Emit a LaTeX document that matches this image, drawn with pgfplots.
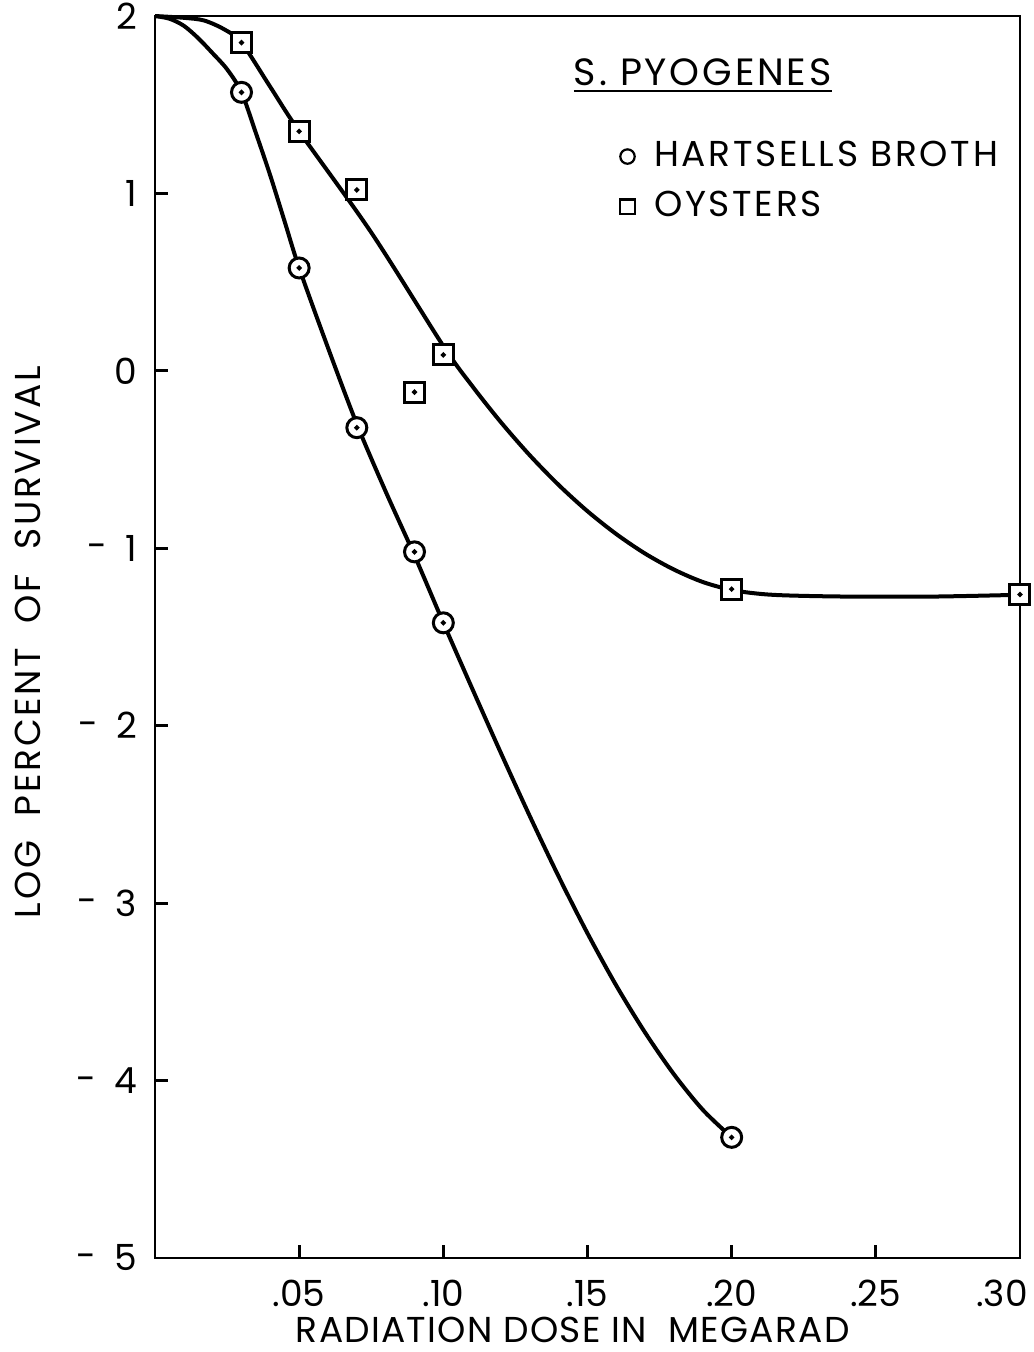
\documentclass[border=0pt]{standalone}
\usepackage{fontspec}
\setmainfont{Poppins}
\newfontfamily\wide{Poppins}[LetterSpace=7.5]
\newfontfamily\midw{Poppins}[LetterSpace=3.5]
\usepackage{pgfplots}
\usepackage{pgfplotstable}
\pgfplotsset{compat=1.18}
\pgfplotsset{single mark legend/.style={legend image code/.code={\draw[##1] plot coordinates {(0pt,0pt)};}}}
\newcommand{\mn}[1]{\raisebox{0.6pt}{-}\hspace{4.5pt}#1}
\pgfplotstableread{
x y
0.03 1.57
0.05 0.58
0.07 -0.32
0.09 -1.02
0.10 -1.42
0.20 -4.32
}\hartsells
\pgfplotstableread{
x y
0.03 1.85
0.05 1.35
0.07 1.02
0.09 -0.12
0.10 0.09
0.20 -1.23
0.30 -1.26
}\oysters
\pgfplotstableread{
x y
0.000 2.00
0.005 1.985
0.010 1.945
0.015 1.875
0.020 1.79
0.025 1.70
0.030 1.57
0.035 1.34
0.040 1.10
0.045 0.84
0.050 0.58
0.060 0.13
0.070 -0.30
0.080 -0.68
0.090 -1.04
0.100 -1.42
0.110 -1.79
0.120 -2.155
0.130 -2.51
0.140 -2.85
0.150 -3.17
0.160 -3.465
0.170 -3.73
0.180 -3.965
0.190 -4.165
0.200 -4.32
}\hcurve
\pgfplotstableread{
x y
0.000 2.00
0.010 1.99
0.017 1.975
0.024 1.925
0.030 1.85
0.040 1.60
0.050 1.35
0.075 0.78
0.100 0.14
0.110 -0.085
0.120 -0.29
0.130 -0.476
0.140 -0.643
0.150 -0.791
0.160 -0.92
0.170 -1.03
0.180 -1.12
0.190 -1.19
0.200 -1.235
0.210 -1.257
0.220 -1.266
0.240 -1.272
0.270 -1.272
0.300 -1.262
}\ocurve
\begin{document}
\begin{tikzpicture}
\useasboundingbox (0pt,0pt) rectangle (258.5pt,338pt);
\begin{axis}[
  name=ax,
  at={(38.75pt,23.5pt)}, anchor=south west,
  scale only axis,
  width=216.25pt, height=310.5pt,
  xmin=0, xmax=0.30, ymin=-5, ymax=2,
  clip=false,
  font=\fontsize{9}{11}\selectfont,
  axis line style={line width=0.7pt},
  tick align=inside,
  tick pos=left,
  major tick length=3.2pt,
  tick style={line width=0.7pt, black},
  xtick={0.05,0.10,0.15,0.20,0.25},
  xticklabels={.05,.10,.15,.20,.25},
  extra x ticks={0.30},
  extra x tick labels={.30},
  extra x tick style={xticklabel style={xshift=-4.5pt}},
  xticklabel style={yshift=-2pt},
  ytick={-5,-4,-3,-2,-1,0,1,2},
  yticklabels={\mn{5},\mn{4},\mn{3},\mn{2},\mn{1},0,1,2},
  yticklabel style={xshift=-1pt},
  xlabel={\midw RADIATION DOSE IN\ \ MEGARAD},
  xlabel style={at={(axis description cs:0.483,-0.058)}, anchor=center},
  ylabel={\wide LOG\ \ PERCENT\ \ OF\ \ SURVIVAL},
  ylabel style={at={(axis description cs:-0.1468,0.496)}, anchor=center},
  legend style={draw=none, fill=none, at={(axis description cs:0.537,0.9053)}, anchor=north west, row sep=1.5pt, inner sep=0pt, nodes={inner sep=1.6pt}, font=\fontsize{9}{11}\selectfont\wide},
  legend cell align=left,
]
\addplot[line width=1pt, smooth, forget plot] table {\hcurve};
\addplot[line width=1pt, smooth, forget plot] table {\ocurve};
\addplot[only marks, mark=*, mark size=2.5pt, mark options={fill=white, draw=black, line width=0.75pt}, forget plot] table {\hartsells};
\addplot[only marks, mark=square*, mark size=2.5pt, mark options={fill=white, draw=black, line width=0.75pt}, forget plot] table {\oysters};
\addplot[only marks, mark=*, mark size=0.45pt, forget plot] table {\hartsells};
\addplot[only marks, mark=*, mark size=0.45pt, forget plot] table {\oysters};
\addlegendimage{only marks, mark=o, mark size=1.8pt, mark options={line width=0.55pt}, single mark legend}
\addlegendentry{\hspace{3.3pt}HARTSELLS BROTH}
\addlegendimage{only marks, mark=square, mark size=1.8pt, mark options={line width=0.55pt}, single mark legend}
\addlegendentry{\hspace{3.3pt}OYSTERS}
\node[anchor=base west, font=\fontsize{9.5}{11}\selectfont\wide] at (axis description cs:0.468,0.9444) {\underline{S.\ PYOGENES}};
\end{axis}
\end{tikzpicture}
\end{document}
